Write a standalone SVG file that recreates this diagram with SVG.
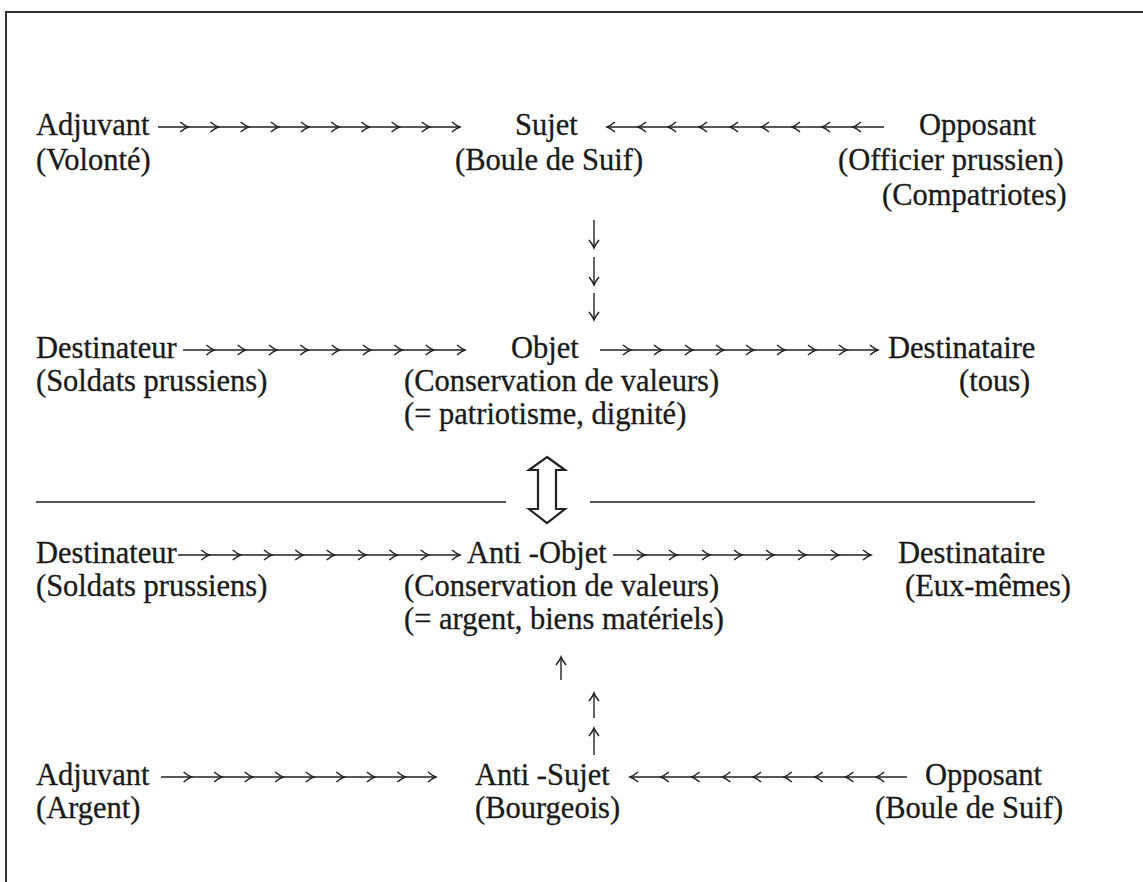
<svg xmlns="http://www.w3.org/2000/svg" width="1143" height="882" viewBox="0 0 1143 882">
<style>
text{font-family:"Liberation Serif","Times New Roman",serif;font-size:30.5px;fill:#1a1a1a;stroke:#1a1a1a;stroke-width:0.3}
.frame{stroke:#333;stroke-width:2;fill:none}
.rule{stroke:#222;stroke-width:1.5;fill:none}
.dbl{stroke:#222;stroke-width:2.2;fill:#fff;stroke-linejoin:miter}
.chain{stroke:#222;stroke-width:1.5;fill:none;marker-mid:url(#ah);marker-end:url(#ah)}
.vert{stroke:#222;stroke-width:1.4;fill:none;marker-end:url(#ah)}
</style>
<defs>
<marker id="ah" viewBox="-10 -7 12 14" markerWidth="12" markerHeight="14" refX="0" refY="0" orient="auto" markerUnits="userSpaceOnUse">
<path d="M-8,-5 Q-3.5,-1.3 0,0 Q-3.5,1.3 -8,5" fill="none" stroke="#222" stroke-width="1.5"/>
</marker>
</defs>
<rect width="1143" height="882" fill="#fff"/>
<g id="frame">
<path class="frame" d="M6,882 V12 H1143"/>
</g>
<g id="adjuvant1"><text x="36" y="135">Adjuvant</text><text x="36" y="170">(Volonté)</text></g>
<g id="sujet"><text x="515" y="135">Sujet</text><text x="455" y="170">(Boule de Suif)</text></g>
<g id="opposant1"><text x="919" y="135">Opposant</text><text x="838" y="170">(Officier prussien)</text><text x="882" y="205">(Compatriotes)</text></g>
<g id="destinateur1"><text x="36" y="358">Destinateur</text><text x="36" y="391">(Soldats prussiens)</text></g>
<g id="objet"><text x="511" y="358">Objet</text><text x="404" y="391">(Conservation de valeurs)</text><text x="404" y="424">(= patriotisme, dignité)</text></g>
<g id="destinataire1"><text x="888" y="358">Destinataire</text><text x="959" y="391">(tous)</text></g>
<g id="destinateur2"><text x="36" y="563">Destinateur</text><text x="36" y="596">(Soldats prussiens)</text></g>
<g id="antiobjet"><text x="467" y="563">Anti -Objet</text><text x="404" y="596">(Conservation de valeurs)</text><text x="404" y="629">(= argent, biens matériels)</text></g>
<g id="destinataire2"><text x="898" y="563">Destinataire</text><text x="905" y="596">(Eux-mêmes)</text></g>
<g id="adjuvant2"><text x="36" y="785">Adjuvant</text><text x="36" y="818">(Argent)</text></g>
<g id="antisujet"><text x="475" y="785">Anti -Sujet</text><text x="475" y="818">(Bourgeois)</text></g>
<g id="opposant2"><text x="925" y="785">Opposant</text><text x="875" y="818">(Boule de Suif)</text></g>
<g id="connectors">
<path class="chain" d="M158,127 H188.2 H218.4 H248.6 H278.8 H309 H339.2 H369.4 H399.6 H429.8 H460"/>
<path class="chain" d="M884,127 H853 H822 H792 H761 H730 H699 H668 H638 H607"/>
<path class="vert" d="M594,220 V248"/>
<path class="vert" d="M594,257 V285"/>
<path class="vert" d="M594,293 V320"/>
<path class="chain" d="M183,350 H214.3 H245.7 H277 H308.3 H339.7 H371 H402.3 H433.7 H465"/>
<path class="chain" d="M600,350 H631 H662 H693 H724 H754 H785 H816 H847 H878"/>
<path class="rule" d="M36,502 H506 M590,502 H1035"/>
<path class="dbl" d="M547,457 L565,470 L556,470 L556,509 L565,509 L547,523 L529,509 L538,509 L538,470 L529,470 Z"/>
<path class="chain" d="M178,555 H209.3 H240.7 H272 H303.3 H334.7 H366 H397.3 H428.7 H460"/>
<path class="chain" d="M613,555 H645 H677 H710 H742 H774 H806 H839 H871"/>
<path class="vert" d="M561,680 V657"/>
<path class="vert" d="M594,718 V693"/>
<path class="vert" d="M594,755 V728"/>
<path class="chain" d="M161,777 H191.6 H222.1 H252.7 H283.2 H313.8 H344.3 H374.9 H405.4 H436"/>
<path class="chain" d="M907,777 H876.2 H845.4 H814.7 H783.9 H753.1 H722.3 H691.6 H660.8 H630"/>
</g>
</svg>
